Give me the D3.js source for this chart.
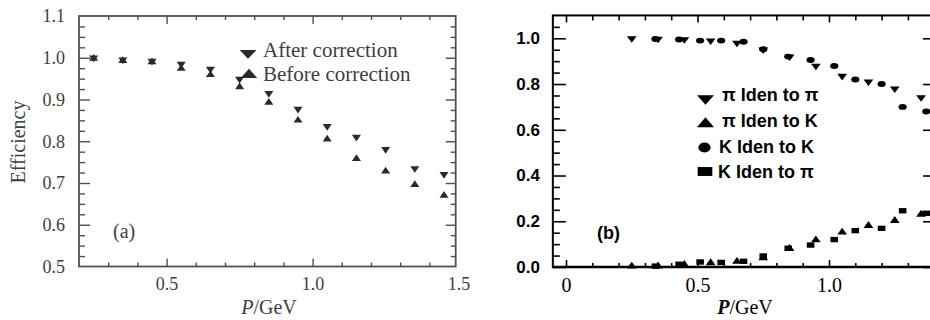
<!DOCTYPE html>
<html><head><meta charset="utf-8">
<script src="https://cdn.jsdelivr.net/npm/d3@7"></script>
<style>body{margin:0;background:#fff}svg{display:block}</style>
</head><body><svg id="c" width="930" height="320"></svg>
<script>
// ---------- Panel (a) data ----------
const pA = [0.25,0.35,0.45,0.55,0.65,0.75,0.85,0.95,1.05,1.15,1.25,1.35,1.45];
const afterCorr  = [1.000,0.995,0.992,0.985,0.973,0.949,0.915,0.877,0.836,0.810,0.781,0.735,0.721];
const beforeCorr = [0.998,0.993,0.990,0.974,0.959,0.930,0.893,0.850,0.805,0.758,0.728,0.696,0.670];
const aYTicks = [0.5,0.6,0.7,0.8,0.9,1.0,1.1];
const aXTicks = [0.5,1.0,1.5];
const aXLabels = ["0.5","1.0","1.5"];
const aLegend = ["After correction","Before correction"];

// ---------- Panel (b) data ----------
const pionP  = [0.25,0.35,0.45,0.55,0.65,0.75,0.85,0.95,1.05,1.15,1.25,1.35];
const piToPi = [1.000,0.997,0.995,0.990,0.980,0.950,0.920,0.879,0.835,0.810,0.780,0.742];
const piToK  = [0.003,0.004,0.010,0.018,0.024,0.040,0.080,0.118,0.152,0.181,0.203,0.230];
const kaonP  = [0.34,0.43,0.51,0.59,0.675,0.75,0.845,0.93,1.02,1.10,1.20,1.28,1.37];
const kToK   = [0.997,0.995,0.990,0.990,0.985,0.952,0.920,0.905,0.879,0.820,0.800,0.700,0.680];
const kToPi  = [0.004,0.012,0.022,0.020,0.025,0.048,0.082,0.096,0.120,0.159,0.169,0.246,0.235];
const bYTicks = [0.0,0.2,0.4,0.6,0.8,1.0];
const bXTicks = [0,0.5,1.0];
const bXLabels = ["0","0.5","1.0"];
const bLegend = ["\u03c0 Iden to \u03c0","\u03c0 Iden to K","K Iden to K","K Iden to \u03c0"];

const svg = d3.select("#c");
svg.append("rect").attr("width",930).attr("height",320).attr("fill","#fff");

function sym(type,size){ return d3.symbol().type(type).size(size)(); }

// ================= Panel (a) =================
const A_LINE = "#505050", A_TEXT = "#3e3e3e", A_MARK = "#2a2a2a";
const xA = d3.scaleLinear().domain([0.2,1.49]).range([79,455.7]);
const yA = d3.scaleLinear().domain([0.5,1.1]).range([266.5,16]);
const gA = svg.append("g").attr("font-family","'Liberation Serif','DejaVu Serif',serif");

function cleanAxis(g){ g.select(".domain").remove(); }
const aMinorX = d3.range(0.3,1.45,0.1).filter(v=>Math.abs(v-0.5)>1e-6&&Math.abs(v-1.0)>1e-6);
const aMinorY = d3.range(0.525,1.1,0.025).filter(v=>Math.abs(v*10-Math.round(v*10))>1e-6);

// bottom
gA.append("g").attr("transform",`translate(0,${yA(0.5)})`)
  .call(d3.axisBottom(xA).tickValues([0.5,1.0]).tickSize(-8).tickFormat(""))
  .call(cleanAxis).selectAll("line").attr("stroke",A_LINE).attr("stroke-width",1.4);
gA.append("g").attr("transform",`translate(0,${yA(0.5)})`)
  .call(d3.axisBottom(xA).tickValues(aMinorX).tickSize(-4).tickFormat(""))
  .call(cleanAxis).selectAll("line").attr("stroke",A_LINE).attr("stroke-width",1.4);
const axl = gA.append("g").attr("transform",`translate(0,${yA(0.5)})`)
  .call(d3.axisBottom(xA).tickValues(aXTicks).tickSize(0).tickPadding(11).tickFormat((d,i)=>aXLabels[i]))
  .call(cleanAxis);
axl.selectAll("text").attr("font-size",18).attr("fill",A_TEXT).attr("font-family","'Liberation Serif',serif");
// top
gA.append("g").attr("transform",`translate(0,${yA(1.1)})`)
  .call(d3.axisTop(xA).tickValues([0.5,1.0]).tickSize(-8).tickFormat(""))
  .call(cleanAxis).selectAll("line").attr("stroke",A_LINE).attr("stroke-width",1.4);
gA.append("g").attr("transform",`translate(0,${yA(1.1)})`)
  .call(d3.axisTop(xA).tickValues(aMinorX).tickSize(-4).tickFormat(""))
  .call(cleanAxis).selectAll("line").attr("stroke",A_LINE).attr("stroke-width",1.4);
// left
gA.append("g").attr("transform",`translate(${xA(0.2)},0)`)
  .call(d3.axisLeft(yA).tickValues(aYTicks.slice(1,-1)).tickSize(-11).tickFormat(""))
  .call(cleanAxis).selectAll("line").attr("stroke",A_LINE).attr("stroke-width",1.4);
gA.append("g").attr("transform",`translate(${xA(0.2)},0)`)
  .call(d3.axisLeft(yA).tickValues(aMinorY).tickSize(-6).tickFormat(""))
  .call(cleanAxis).selectAll("line").attr("stroke",A_LINE).attr("stroke-width",1.4);
const ayl = gA.append("g").attr("transform",`translate(${xA(0.2)},0)`)
  .call(d3.axisLeft(yA).tickValues(aYTicks).tickSize(0).tickPadding(14).tickFormat(d3.format(".1f")))
  .call(cleanAxis);
ayl.selectAll("text").attr("font-size",18).attr("fill",A_TEXT).attr("font-family","'Liberation Serif',serif");
// right
gA.append("g").attr("transform",`translate(${xA(1.49)},0)`)
  .call(d3.axisRight(yA).tickValues(aYTicks.slice(1,-1)).tickSize(-10).tickFormat(""))
  .call(cleanAxis).selectAll("line").attr("stroke",A_LINE).attr("stroke-width",1.4);
gA.append("g").attr("transform",`translate(${xA(1.49)},0)`)
  .call(d3.axisRight(yA).tickValues(aMinorY).tickSize(-5).tickFormat(""))
  .call(cleanAxis).selectAll("line").attr("stroke",A_LINE).attr("stroke-width",1.4);
// frame
gA.append("rect").attr("x",xA(0.2)).attr("y",yA(1.1))
  .attr("width",xA(1.49)-xA(0.2)).attr("height",yA(0.5)-yA(1.1))
  .attr("fill","none").attr("stroke",A_LINE).attr("stroke-width",1.8);

// data (a)
const triUp = sym(d3.symbolTriangle,32);
gA.append("g").selectAll("path.b").data(pA).join("path")
  .attr("d",triUp).attr("fill",A_MARK)
  .attr("transform",(d,i)=>`translate(${xA(d)},${yA(beforeCorr[i])}) scale(1.05,0.9)`);
gA.append("g").selectAll("path.a").data(pA).join("path")
  .attr("d",triUp).attr("fill",A_MARK)
  .attr("transform",(d,i)=>`translate(${xA(d)},${yA(afterCorr[i])}) rotate(180) scale(1.05,0.9)`);

// legend (a)
const triLeg = sym(d3.symbolTriangle,90);
gA.append("path").attr("d",triLeg).attr("fill",A_MARK)
  .attr("transform","translate(248,53) rotate(180) scale(1.15,0.7)");
gA.append("path").attr("d",triLeg).attr("fill",A_MARK)
  .attr("transform","translate(249,75) scale(1.15,0.75)");
gA.append("text").attr("x",263).attr("y",57).attr("font-size",21).attr("fill",A_TEXT).text(aLegend[0]);
gA.append("text").attr("x",263).attr("y",81).attr("font-size",21).attr("fill",A_TEXT).text(aLegend[1]);
gA.append("text").attr("x",113).attr("y",238).attr("font-size",20).attr("fill",A_TEXT).text("(a)");
// axis titles (a)
const tA = gA.append("text").attr("x",269).attr("y",314).attr("text-anchor","middle")
  .attr("font-size",20).attr("fill",A_TEXT);
tA.append("tspan").attr("font-style","italic").text("P");
tA.append("tspan").text("/GeV");
gA.append("text").attr("transform","translate(25,142) rotate(-90)").attr("text-anchor","middle")
  .attr("font-size",20).attr("fill",A_TEXT).text("Efficiency");

// ================= Panel (b) =================
const K = "#000";
const xB = d3.scaleLinear().domain([0,1]).range([566,829]);
const yB = d3.scaleLinear().domain([0,1]).range([267,38.3]);
const bx0 = -0.05, bx1 = 1.407;
const gB = svg.append("g").attr("font-family","'Liberation Sans',Arial,sans-serif");
const bMinorX = d3.range(0.1,1.4,0.1).filter(v=>Math.abs(v-0.5)>1e-6&&Math.abs(v-1.0)>1e-6);
const bMinorY = d3.range(0.05,1.1,0.05).filter(v=>Math.abs(v*5-Math.round(v*5))>1e-6);

// bottom
gB.append("g").attr("transform",`translate(0,${yB(0)})`)
  .call(d3.axisBottom(xB).tickValues(bXTicks).tickSize(-7).tickFormat(""))
  .call(cleanAxis).selectAll("line").attr("stroke",K).attr("stroke-width",1.6);
gB.append("g").attr("transform",`translate(0,${yB(0)})`)
  .call(d3.axisBottom(xB).tickValues(bMinorX).tickSize(-4).tickFormat(""))
  .call(cleanAxis).selectAll("line").attr("stroke",K).attr("stroke-width",1.6);
const bxl = gB.append("g").attr("transform",`translate(0,${yB(0)})`)
  .call(d3.axisBottom(xB).tickValues(bXTicks).tickSize(0).tickPadding(11).tickFormat((d,i)=>bXLabels[i]))
  .call(cleanAxis);
bxl.selectAll("text").attr("font-size",20).attr("fill",K).attr("font-family","'Liberation Serif',serif");
// top
gB.append("g").attr("transform",`translate(0,${yB(1.1)})`)
  .call(d3.axisTop(xB).tickValues(bXTicks).tickSize(-7).tickFormat(""))
  .call(cleanAxis).selectAll("line").attr("stroke",K).attr("stroke-width",1.6);
gB.append("g").attr("transform",`translate(0,${yB(1.1)})`)
  .call(d3.axisTop(xB).tickValues(bMinorX).tickSize(-5).tickFormat(""))
  .call(cleanAxis).selectAll("line").attr("stroke",K).attr("stroke-width",1.6);
// left
gB.append("g").attr("transform",`translate(${xB(bx0)},0)`)
  .call(d3.axisLeft(yB).tickValues(bYTicks).tickSize(-13).tickFormat(""))
  .call(cleanAxis).selectAll("line").attr("stroke",K).attr("stroke-width",1.6);
gB.append("g").attr("transform",`translate(${xB(bx0)},0)`)
  .call(d3.axisLeft(yB).tickValues(bMinorY).tickSize(-7).tickFormat(""))
  .call(cleanAxis).selectAll("line").attr("stroke",K).attr("stroke-width",1.6);
const byl = gB.append("g").attr("transform",`translate(${xB(bx0)},0)`)
  .call(d3.axisLeft(yB).tickValues(bYTicks).tickSize(0).tickPadding(13).tickFormat(d3.format(".1f")))
  .call(cleanAxis);
byl.selectAll("text").attr("font-size",17).attr("font-weight","bold").attr("fill",K);
// right
gB.append("g").attr("transform",`translate(${xB(bx1)},0)`)
  .call(d3.axisRight(yB).tickValues(bYTicks).tickSize(-13).tickFormat(""))
  .call(cleanAxis).selectAll("line").attr("stroke",K).attr("stroke-width",1.6);
gB.append("g").attr("transform",`translate(${xB(bx1)},0)`)
  .call(d3.axisRight(yB).tickValues(bMinorY).tickSize(-6).tickFormat(""))
  .call(cleanAxis).selectAll("line").attr("stroke",K).attr("stroke-width",1.6);
// frame
gB.append("rect").attr("x",xB(bx0)).attr("y",yB(1.1))
  .attr("width",xB(bx1)-xB(bx0)).attr("height",yB(0)-yB(1.1))
  .attr("fill","none").attr("stroke",K).attr("stroke-width",2);
gB.append("line").attr("x1",xB(bx0)).attr("x2",xB(bx1)).attr("y1",yB(0)).attr("y2",yB(0))
  .attr("stroke",K).attr("stroke-width",2.6);

// data (b)
const triB = sym(d3.symbolTriangle,34);
const circB = sym(d3.symbolCircle,34);
const sqB = sym(d3.symbolSquare,40);
gB.append("g").selectAll("path").data(pionP).join("path")
  .attr("d",triB).attr("fill",K)
  .attr("transform",(d,i)=>`translate(${xB(d)},${yB(piToPi[i])}) rotate(180) scale(1.1,0.85)`);
gB.append("g").selectAll("path").data(pionP).join("path")
  .attr("d",triB).attr("fill",K)
  .attr("transform",(d,i)=>`translate(${xB(d)},${yB(piToK[i])}) scale(1.1,0.9)`);
gB.append("g").selectAll("path").data(kaonP).join("path")
  .attr("d",circB).attr("fill",K)
  .attr("transform",(d,i)=>`translate(${xB(d)},${yB(kToK[i])}) scale(1.25,0.9)`);
gB.append("g").selectAll("path").data(kaonP).join("path")
  .attr("d",sqB).attr("fill",K)
  .attr("transform",(d,i)=>`translate(${xB(d)},${yB(kToPi[i])}) scale(1.2,0.85)`);

// legend (b)
const legTri = sym(d3.symbolTriangle,80);
const legCirc = sym(d3.symbolCircle,90);
const legSq = sym(d3.symbolSquare,110);
gB.append("path").attr("d",legTri).attr("fill",K).attr("transform","translate(705.5,98.5) rotate(180) scale(1.25,0.8)");
gB.append("path").attr("d",legTri).attr("fill",K).attr("transform","translate(705.5,124) scale(1.25,0.85)");
gB.append("path").attr("d",legCirc).attr("fill",K).attr("transform","translate(704.5,147.5) scale(1.15,0.95)");
gB.append("path").attr("d",legSq).attr("fill",K).attr("transform","translate(705,171.5) scale(1.4,0.85)");
const legX = [722,722,719,718], legY = [101,127,153,178];
gB.append("g").selectAll("text").data(bLegend).join("text")
  .attr("x",(d,i)=>legX[i]).attr("y",(d,i)=>legY[i])
  .attr("font-size",18).attr("font-weight","bold").attr("fill",K).text(d=>d);
gB.append("text").attr("x",597).attr("y",239).attr("font-size",18).attr("font-weight","bold").attr("fill",K).text("(b)");
const tB = gB.append("text").attr("x",745).attr("y",314).attr("text-anchor","middle")
  .attr("font-size",20).attr("fill",K).attr("font-family","'Liberation Serif',serif");
tB.append("tspan").attr("font-style","italic").attr("font-weight","bold").text("P");
tB.append("tspan").text("/GeV");
</script></body></html>
